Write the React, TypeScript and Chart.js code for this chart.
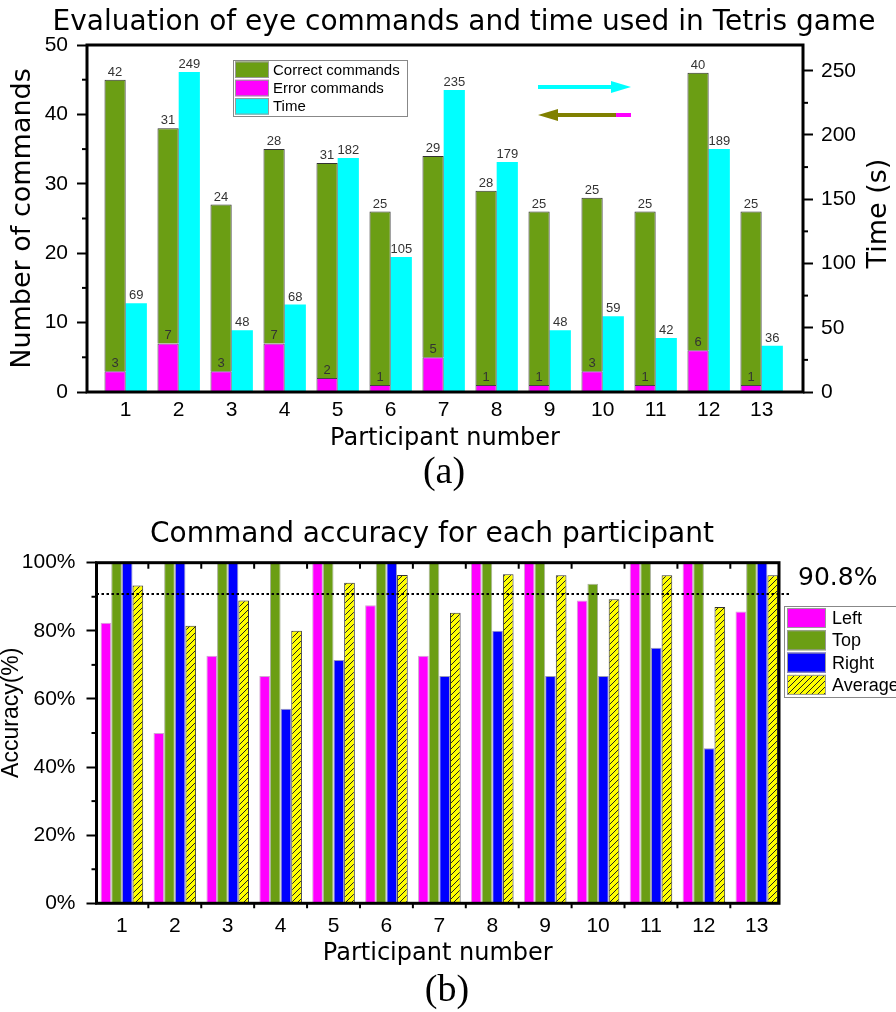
import React, { useEffect, useRef } from 'react';
import { Chart, registerables } from 'chart.js';
Chart.register(...registerables);

// ---------- Data: panel (a) ----------
const CATS = [1, 2, 3, 4, 5, 6, 7, 8, 9, 10, 11, 12, 13];
const ERROR_CMDS = [3, 7, 3, 7, 2, 1, 5, 1, 1, 3, 1, 6, 1];
const CORRECT_CMDS = [42, 31, 24, 28, 31, 25, 29, 28, 25, 25, 25, 40, 25];
const TIME_S = [69, 249, 48, 68, 182, 105, 235, 179, 48, 59, 42, 189, 36];
const Y_TICKS_A = [0, 10, 20, 30, 40, 50];
const Y_MINOR_A = [5, 15, 25, 35, 45];
const Y2_TICKS_A = [0, 50, 100, 150, 200, 250];
const Y2_MINOR_A = [25, 75, 125, 175, 225];

// ---------- Data: panel (b) ----------
const ACC_LEFT = [82.4, 50, 72.7, 66.7, 100, 87.5, 72.7, 100, 100, 88.9, 100, 100, 85.7];
const ACC_TOP = [100, 100, 100, 100, 100, 100, 100, 100, 100, 93.8, 100, 100, 100];
const ACC_RIGHT = [100, 100, 100, 57.1, 71.4, 100, 66.7, 80, 66.7, 66.7, 75, 45.5, 100];
const ACC_AVG = [93.3, 81.5, 88.9, 80.0, 94.1, 96.4, 85.3, 96.6, 96.3, 89.3, 96.3, 87.0, 96.3];
const ACC_TICKS = [0, 20, 40, 60, 80, 100];
const ACC_MINOR = [10, 30, 50, 70, 90];
const OVERALL_AVG = 90.8;

const TITLE_A = 'Evaluation of eye commands and time used in Tetris game';
const TITLE_B = 'Command accuracy for each participant';

const GREEN = '#6B9E14';
const MAGENTA = '#FF00FF';
const CYAN = '#00FFFF';
const BLUE = '#0000FF';
const OLIVE = '#808000';

const SANS = '"Liberation Sans", Arial, sans-serif';
const WIDE = '"DejaVu Sans", sans-serif';

function makeHatch(): any {
  const c = document.createElement('canvas');
  const s = 6;
  c.width = s;
  c.height = s;
  const g = c.getContext('2d')!;
  g.fillStyle = '#FFFF00';
  g.fillRect(0, 0, s, s);
  g.strokeStyle = '#222';
  g.lineWidth = 1;
  g.beginPath();
  g.moveTo(0, s); g.lineTo(s, 0);
  g.moveTo(-1, 1); g.lineTo(1, -1);
  g.moveTo(s - 1, s + 1); g.lineTo(s + 1, s - 1);
  g.stroke();
  return g.createPattern(c, 'repeat');
}

function pts(vals: number[]) {
  return vals.map((v, i) => ({ x: CATS[i], y: v }));
}

function drawVText(ctx: CanvasRenderingContext2D, text: string, x: number, y: number, font: string) {
  ctx.save();
  ctx.translate(x, y);
  ctx.rotate(-Math.PI / 2);
  ctx.font = font;
  ctx.textAlign = 'center';
  ctx.textBaseline = 'middle';
  ctx.fillStyle = '#000';
  ctx.fillText(text, 0, 0);
  ctx.restore();
}

function drawHText(ctx: CanvasRenderingContext2D, text: string, x: number, y: number, font: string) {
  ctx.save();
  ctx.font = font;
  ctx.textAlign = 'center';
  ctx.textBaseline = 'middle';
  ctx.fillStyle = '#000';
  ctx.fillText(text, x, y);
  ctx.restore();
}

function drawMinor(ctx: CanvasRenderingContext2D, scale: any, values: number[], side: 'left' | 'right', len: number) {
  ctx.save();
  ctx.strokeStyle = '#000';
  ctx.lineWidth = 2;
  values.forEach((v) => {
    const y = scale.getPixelForValue(v);
    ctx.beginPath();
    if (side === 'left') {
      ctx.moveTo(scale.right - len, y);
      ctx.lineTo(scale.right, y);
    } else {
      ctx.moveTo(scale.left, y);
      ctx.lineTo(scale.left + len, y);
    }
    ctx.stroke();
  });
  ctx.restore();
}

function drawFrame(ctx: CanvasRenderingContext2D, ca: any) {
  ctx.save();
  ctx.strokeStyle = '#000';
  ctx.lineWidth = 3;
  ctx.strokeRect(ca.left, ca.top, ca.right - ca.left, ca.bottom - ca.top);
  ctx.restore();
}

const yTickCfg = (padding: number, cb?: (v: number) => string) => ({
  font: { family: SANS, size: 21 },
  color: '#000',
  padding,
  callback: cb || ((v: number) => String(v)),
});
const yGridCfg = {
  display: true,
  drawOnChartArea: false,
  drawTicks: true,
  tickLength: 10,
  tickWidth: 2,
  tickColor: '#000',
};

const decorA = {
  id: 'decorA',
  afterDatasetsDraw(chart: any) {
    const ctx = chart.ctx;
    ctx.save();
    ctx.font = `13px ${SANS}`;
    ctx.fillStyle = '#333';
    ctx.textAlign = 'center';
    ctx.textBaseline = 'bottom';
    chart.data.datasets.forEach((ds: any, i: number) => {
      const meta = chart.getDatasetMeta(i);
      meta.data.forEach((el: any, j: number) => {
        ctx.fillText(String(ds.data[j].y), el.x, el.y - 1);
      });
    });
    ctx.restore();
  },
  afterDraw(chart: any) {
    const ctx = chart.ctx;
    const ca = chart.chartArea;
    drawFrame(ctx, ca);
    drawMinor(ctx, chart.scales.y, Y_MINOR_A, 'left', 5);
    drawMinor(ctx, chart.scales.y2, Y2_MINOR_A, 'right', 5);

    drawHText(ctx, TITLE_A, 464, 22.5, `28px ${WIDE}`);

    // legend
    const lx = ca.left + 146;
    const ly = ca.top + 15;
    ctx.save();
    ctx.fillStyle = '#fff';
    ctx.fillRect(lx, ly, 174, 56);
    ctx.strokeStyle = '#888';
    ctx.lineWidth = 1;
    ctx.strokeRect(lx + 0.5, ly + 0.5, 174, 56);
    const rows: [string, string][] = [
      ['Correct commands', GREEN],
      ['Error commands', MAGENTA],
      ['Time', CYAN],
    ];
    ctx.font = `15px ${SANS}`;
    ctx.textAlign = 'left';
    ctx.textBaseline = 'middle';
    rows.forEach(([t, c], i) => {
      const sy = ly + 1.5 + i * 18.3;
      ctx.fillStyle = c;
      ctx.fillRect(lx + 2, sy, 34, 16.5);
      ctx.strokeStyle = '#999';
      ctx.strokeRect(lx + 2.5, sy + 0.5, 33, 15.5);
      ctx.fillStyle = '#000';
      ctx.fillText(t, lx + 40, sy + 9);
    });

    // arrows
    const x0 = ca.left + 451;
    const x1 = ca.left + 544;
    const ay1 = ca.top + 42;
    ctx.lineWidth = 4;
    ctx.strokeStyle = CYAN;
    ctx.beginPath();
    ctx.moveTo(x0, ay1);
    ctx.lineTo(x1 - 15, ay1);
    ctx.stroke();
    ctx.fillStyle = CYAN;
    ctx.beginPath();
    ctx.moveTo(x1, ay1);
    ctx.lineTo(x1 - 20, ay1 - 6);
    ctx.lineTo(x1 - 20, ay1 + 6);
    ctx.closePath();
    ctx.fill();

    const ay2 = ca.top + 70;
    ctx.strokeStyle = OLIVE;
    ctx.beginPath();
    ctx.moveTo(x0 + 15, ay2);
    ctx.lineTo(x1 - 15, ay2);
    ctx.stroke();
    ctx.strokeStyle = MAGENTA;
    ctx.beginPath();
    ctx.moveTo(x1 - 15, ay2);
    ctx.lineTo(x1, ay2);
    ctx.stroke();
    ctx.fillStyle = OLIVE;
    ctx.beginPath();
    ctx.moveTo(x0, ay2);
    ctx.lineTo(x0 + 20, ay2 - 6);
    ctx.lineTo(x0 + 20, ay2 + 6);
    ctx.closePath();
    ctx.fill();
    ctx.restore();

    drawVText(ctx, 'Time (s)', ca.right + 76, (ca.top + ca.bottom) / 2 - 5, `27px ${WIDE}`);
  },
};

const decorB = {
  id: 'decorB',
  afterDraw(chart: any) {
    const ctx = chart.ctx;
    const ca = chart.chartArea;
    const xs = chart.scales.x;
    const ys = chart.scales.y;
    drawFrame(ctx, ca);
    drawMinor(ctx, ys, ACC_MINOR, 'left', 5);

    drawHText(ctx, TITLE_B, 432, 55, `28px ${WIDE}`);

    // separators between participants (top inward, bottom outward)
    ctx.save();
    ctx.strokeStyle = '#000';
    ctx.lineWidth = 2;
    CATS.slice(0, -1).forEach((c) => {
      const x = xs.getPixelForValue(c + 0.5);
      ctx.beginPath();
      ctx.moveTo(x, ca.top);
      ctx.lineTo(x, ca.top + 6);
      ctx.moveTo(x, ca.bottom - 1);
      ctx.lineTo(x, ca.bottom + 5);
      ctx.stroke();
    });

    // overall average line
    const yAvg = ys.getPixelForValue(OVERALL_AVG);
    ctx.setLineDash([2.5, 2.5]);
    ctx.beginPath();
    ctx.moveTo(ca.left, yAvg);
    ctx.lineTo(ca.right + 12, yAvg);
    ctx.stroke();
    ctx.setLineDash([]);
    ctx.fillStyle = '#000';
    ctx.font = `25px ${WIDE}`;
    ctx.textAlign = 'left';
    ctx.textBaseline = 'middle';
    ctx.fillText(`${OVERALL_AVG}%`, ca.right + 19, yAvg - 16);

    // legend
    const lx = ca.right + 5;
    const ly = ca.top + 43.3;
    ctx.fillStyle = '#fff';
    ctx.fillRect(lx, ly, 140, 91);
    ctx.strokeStyle = '#888';
    ctx.lineWidth = 1;
    ctx.strokeRect(lx + 0.5, ly + 0.5, 140, 91);
    const ds = chart.data.datasets;
    ctx.font = `18px ${SANS}`;
    ds.forEach((d: any, i: number) => {
      const sy = ly + 2 + i * 22.3;
      ctx.fillStyle = d.backgroundColor;
      ctx.fillRect(lx + 3, sy, 39, 20);
      ctx.strokeStyle = '#999';
      ctx.strokeRect(lx + 3.5, sy + 0.5, 38, 19);
      ctx.fillStyle = '#000';
      ctx.fillText(d.label, lx + 48, sy + 11);
    });
    ctx.restore();

    drawVText(ctx, 'Accuracy(%)', 12, ca.top + 150, `23px ${SANS}`);
  },
};

function configA(): any {
  const barOpts = { categoryPercentage: 0.8, barPercentage: 1 };
  return {
    type: 'bar',
    data: {
      datasets: [
        { label: 'Error commands', data: pts(ERROR_CMDS), backgroundColor: MAGENTA, borderColor: '#444', borderWidth: 1, stack: 'cmd', yAxisID: 'y', ...barOpts },
        { label: 'Correct commands', data: pts(CORRECT_CMDS), backgroundColor: GREEN, borderColor: '#333', borderWidth: 1, stack: 'cmd', yAxisID: 'y', ...barOpts },
        { label: 'Time', data: pts(TIME_S), backgroundColor: CYAN, borderWidth: 0, stack: 'time', yAxisID: 'y2', ...barOpts },
      ],
    },
    options: {
      responsive: false,
      animation: false,
      events: [],
      layout: { padding: { top: 45, left: 0, right: 0, bottom: 0 } },
      plugins: {
        legend: { display: false },
        tooltip: { enabled: false },
        title: { display: false },
      },
      scales: {
        x: {
          type: 'linear',
          offset: false,
          min: 0.27,
          max: 13.78,
          grid: { display: false, drawTicks: false, offset: false },
          border: { display: false },
          afterBuildTicks: (s: any) => { s.ticks = CATS.map((v) => ({ value: v })); },
          ticks: { font: { family: SANS, size: 21 }, color: '#000', padding: 6, autoSkip: false, maxRotation: 0, callback: (v: number) => String(v) },
          title: { display: true, text: 'Participant number', color: '#000', font: { family: WIDE, size: 24, lineHeight: 1 }, padding: { top: 0, bottom: 9 } },
          afterFit: (s: any) => { s.height = 68; },
        },
        y: {
          type: 'linear',
          position: 'left',
          stacked: true,
          min: 0,
          max: 50,
          afterBuildTicks: (s: any) => { s.ticks = Y_TICKS_A.map((v) => ({ value: v })); },
          grid: yGridCfg,
          border: { display: false },
          ticks: yTickCfg(9),
          title: { display: true, text: 'Number of commands', color: '#000', font: { family: WIDE, size: 27, lineHeight: 1 }, padding: { top: 9.7, bottom: 0 } },
          afterFit: (s: any) => { s.width = 87; },
        },
        y2: {
          type: 'linear',
          position: 'right',
          min: 0,
          max: 270,
          afterBuildTicks: (s: any) => { s.ticks = Y2_TICKS_A.map((v) => ({ value: v })); },
          grid: yGridCfg,
          border: { display: false },
          ticks: yTickCfg(8),
          afterFit: (s: any) => { s.width = 93; },
        },
      },
    },
    plugins: [decorA],
  };
}

function configB(): any {
  const barOpts = { categoryPercentage: 0.805, barPercentage: 1 };
  const hatch = makeHatch();
  return {
    type: 'bar',
    data: {
      datasets: [
        { label: 'Left', data: pts(ACC_LEFT), backgroundColor: MAGENTA, borderColor: 'rgba(120,0,120,0.35)', borderWidth: 1, ...barOpts },
        { label: 'Top', data: pts(ACC_TOP), backgroundColor: GREEN, borderColor: 'rgba(40,60,0,0.4)', borderWidth: 1, ...barOpts },
        { label: 'Right', data: pts(ACC_RIGHT), backgroundColor: BLUE, borderColor: 'rgba(0,0,80,0.4)', borderWidth: 1, ...barOpts },
        { label: 'Average', data: pts(ACC_AVG), backgroundColor: hatch, borderColor: '#333', borderWidth: 1, ...barOpts },
      ],
    },
    options: {
      responsive: false,
      animation: false,
      events: [],
      layout: { padding: { right: 117, left: 0, top: 82.7, bottom: 0 } },
      plugins: {
        legend: { display: false },
        tooltip: { enabled: false },
        title: { display: false },
      },
      scales: {
        x: {
          type: 'linear',
          offset: false,
          min: 0.52,
          max: 13.42,
          grid: { display: false, drawTicks: false, offset: false },
          border: { display: false },
          afterBuildTicks: (s: any) => { s.ticks = CATS.map((v) => ({ value: v })); },
          ticks: { font: { family: SANS, size: 21 }, color: '#000', padding: 10, autoSkip: false, maxRotation: 0, callback: (v: number) => String(v) },
          title: { display: true, text: 'Participant number', color: '#000', font: { family: WIDE, size: 24, lineHeight: 1 }, padding: { top: 0, bottom: 14 } },
          afterFit: (s: any) => { s.height = 76.7; },
        },
        y: {
          type: 'linear',
          position: 'left',
          min: 0,
          max: 100,
          afterBuildTicks: (s: any) => { s.ticks = ACC_TICKS.map((v) => ({ value: v })); },
          grid: yGridCfg,
          border: { display: false },
          ticks: yTickCfg(11, (v: number) => `${v}%`),
          afterFit: (s: any) => { s.width = 96.5; },
        },
      },
    },
    plugins: [decorB],
  };
}

export default function App() {
  const refA = useRef<HTMLCanvasElement>(null);
  const refB = useRef<HTMLCanvasElement>(null);
  useEffect(() => {
    const a = new Chart(refA.current as HTMLCanvasElement, configA());
    const b = new Chart(refB.current as HTMLCanvasElement, configB());
    return () => {
      a.destroy();
      b.destroy();
    };
  }, []);
  const serif = '"Liberation Serif", "Times New Roman", serif';
  return (
    <div style={{ position: 'absolute', left: 0, top: 0, width: 896, height: 1012, background: '#fff', overflow: 'hidden' }}>
      <canvas ref={refA} width={896} height={460} style={{ position: 'absolute', left: 0, top: 0, width: 896, height: 460 }} />
      <canvas ref={refB} width={896} height={500} style={{ position: 'absolute', left: 0, top: 480, width: 896, height: 500 }} />
      <div style={{ position: 'absolute', left: 0, top: 450, width: 888, textAlign: 'center', fontFamily: serif, fontSize: 38, lineHeight: '40px', color: '#000' }}>(a)</div>
      <div style={{ position: 'absolute', left: 0, top: 968, width: 894, textAlign: 'center', fontFamily: serif, fontSize: 38, lineHeight: '40px', color: '#000' }}>(b)</div>
    </div>
  );
}
